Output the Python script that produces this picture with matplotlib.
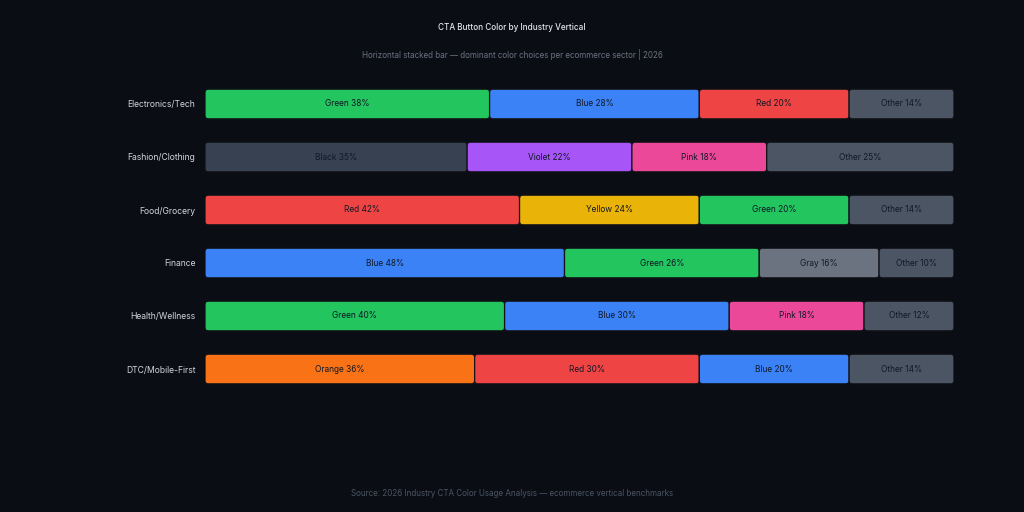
import matplotlib
matplotlib.use("Agg")
import matplotlib.pyplot as plt
from matplotlib.patches import FancyBboxPatch

plt.rcParams['font.family'] = ['Inter', 'DejaVu Sans']

industries = ["Electronics/Tech", "Fashion/Clothing", "Food/Grocery",
              "Finance", "Health/Wellness", "DTC/Mobile-First"]
seg_names = [
    ["Green", "Blue", "Red", "Other"],
    ["Black", "Violet", "Pink", "Other"],
    ["Red", "Yellow", "Green", "Other"],
    ["Blue", "Green", "Gray", "Other"],
    ["Green", "Blue", "Pink", "Other"],
    ["Orange", "Red", "Blue", "Other"],
]
seg_values = [
    [38, 28, 20, 14],
    [35, 22, 18, 25],
    [42, 24, 20, 14],
    [48, 26, 16, 10],
    [40, 30, 18, 12],
    [36, 30, 20, 14],
]
color_map = {
    "Green": "#22c55e", "Blue": "#3b82f6", "Red": "#ef4444", "Other": "#4b5563",
    "Black": "#374151", "Violet": "#a855f7", "Pink": "#ec4899", "Yellow": "#eab308",
    "Gray": "#6b7280", "Orange": "#f97316",
}

BG = "#0a0d14"
fig = plt.figure(figsize=(10.24, 5.12), dpi=100, facecolor=BG)
ax = fig.add_axes([0.2002, 1 - 395.5 / 512, 0.7314, 318 / 512])
ax.set_facecolor(BG)

bar_h = 0.56
for i, (names, vals) in enumerate(zip(seg_names, seg_values)):
    left = 0
    for name, v in zip(names, vals):
        bars = ax.barh(i, v, left=left, height=bar_h, color="none", edgecolor="none")
        r = bars[0]
        x0, y0, w, h = r.get_x(), r.get_y(), r.get_width(), r.get_height()
        r.remove()
        p = FancyBboxPatch((x0, y0), w, h,
                           boxstyle="round,pad=0,rounding_size=0.45",
                           mutation_aspect=0.141,
                           facecolor=color_map[name], edgecolor="#111318", linewidth=0.9)
        ax.add_patch(p)
        ax.text(left + v / 2, i, f"{name} {v}%", ha="center", va="center",
                fontsize=6, color="#111827")
        left += v

ax.set_xlim(0, 100)
ax.set_ylim(5.5, -0.5)
ax.set_yticks(range(len(industries)))
ax.set_yticklabels(industries, fontsize=6.2, color="#d1d5db")
ax.tick_params(axis='y', length=0, pad=7)
ax.set_xticks([])
for s in ax.spines.values():
    s.set_visible(False)

fig.text(0.5, 1 - 27 / 512, "CTA Button Color by Industry Vertical", ha="center", va="center",
         fontsize=5.9, color="#e5e7eb", weight="medium")
fig.text(0.5, 1 - 55 / 512, "Horizontal stacked bar — dominant color choices per ecommerce sector | 2026",
         ha="center", va="center", fontsize=5.8, color="#6b7280")
fig.text(0.5, 1 - 494 / 512, "Source: 2026 Industry CTA Color Usage Analysis — ecommerce vertical benchmarks",
         ha="center", va="center", fontsize=5.8, color="#4b5563")

fig.savefig("out.png", dpi=100, facecolor=BG)
